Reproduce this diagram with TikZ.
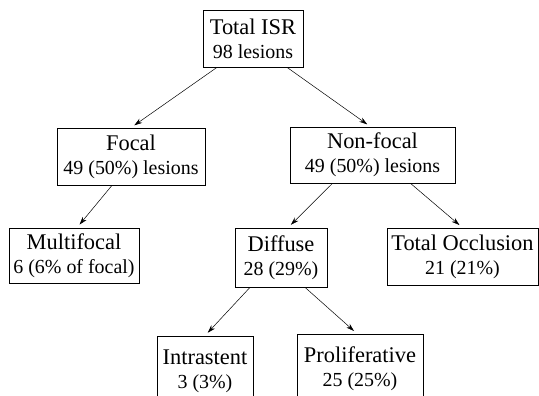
\documentclass[tikz,border=0pt]{standalone}
\usepackage{fontspec}
\setmainfont{Liberation Serif}
\usepackage{tikz}
\usetikzlibrary{arrows.meta}

\begin{document}
\begin{tikzpicture}
      [x = 1bp, y = -1bp,
      box/.style= {
         draw,
         align = center,
         inner sep = 0pt,
         line width = 0.7pt,
         font = \fontsize{20}{24}\selectfont
      },
      link/.style= {
         -{Stealth[length = 8bp, width = 5bp]},
         line width = 0.5pt,
         shorten > = 4bp
      }]

      \useasboundingbox (0, 0) rectangle (539, 395);

      \node[box, minimum width = 100bp, minimum height = 57bp] (total)
         at (253, 38.5) {{\fontsize{22.5}{24}\selectfont Total ISR}\\98 lesions};
      \node[box, minimum width = 148bp, minimum height = 57bp] (focal)
         at (131, 156.5) {{\fontsize{22.5}{24}\selectfont Focal}\\49 (50\%) lesions};
      \node[box, minimum width = 165bp, minimum height = 56bp] (nonfocal)
         at (372.5, 155) {{\fontsize{22.5}{24}\selectfont Non-focal}\\49 (50\%) lesions};
      \node[box, minimum width = 130bp, minimum height = 55bp] (multifocal)
         at (74, 255.5) {{\fontsize{22.5}{24}\selectfont Multifocal}\\6 (6\% of focal)};
      \node[box, minimum width = 92bp, minimum height = 59bp] (diffuse)
         at (281, 257.5) {{\fontsize{22.5}{24}\selectfont Diffuse}\\28 (29\%)};
      \node[box, minimum width = 151bp, minimum height = 57bp] (occlusion)
         at (462.5, 256.5) {{\fontsize{22.5}{24}\selectfont Total Occlusion}\\21 (21\%)};
      \node[box, minimum width = 96bp, minimum height = 70bp] (intrastent)
         at (205, 371) {{\fontsize{22.5}{24}\selectfont Intrastent}\\3 (3\%)};
      \node[box, minimum width = 126bp, minimum height = 70bp] (proliferative)
         at (360, 369) {{\fontsize{22.5}{24}\selectfont Proliferative}\\25 (25\%)};

      \draw[link] ([xshift = -36bp]total.south) -- (focal.north);
      \draw[link] ([xshift = 34bp]total.south) -- ([xshift = -2bp]nonfocal.north);
      \draw[link] ([xshift = -19bp]focal.south) -- ([xshift = 3bp]multifocal.north);
      \draw[link] ([xshift = -40bp]nonfocal.south) -- ([xshift = 7bp]diffuse.north);
      \draw[link] ([xshift = 38bp]nonfocal.south) -- (occlusion.north);
      \draw[link] ([xshift = -31bp]diffuse.south) -- (intrastent.north);
      \draw[link] ([xshift = 24bp]diffuse.south) -- ([xshift = -3bp]proliferative.north);

   \end{tikzpicture}
\end{document}
